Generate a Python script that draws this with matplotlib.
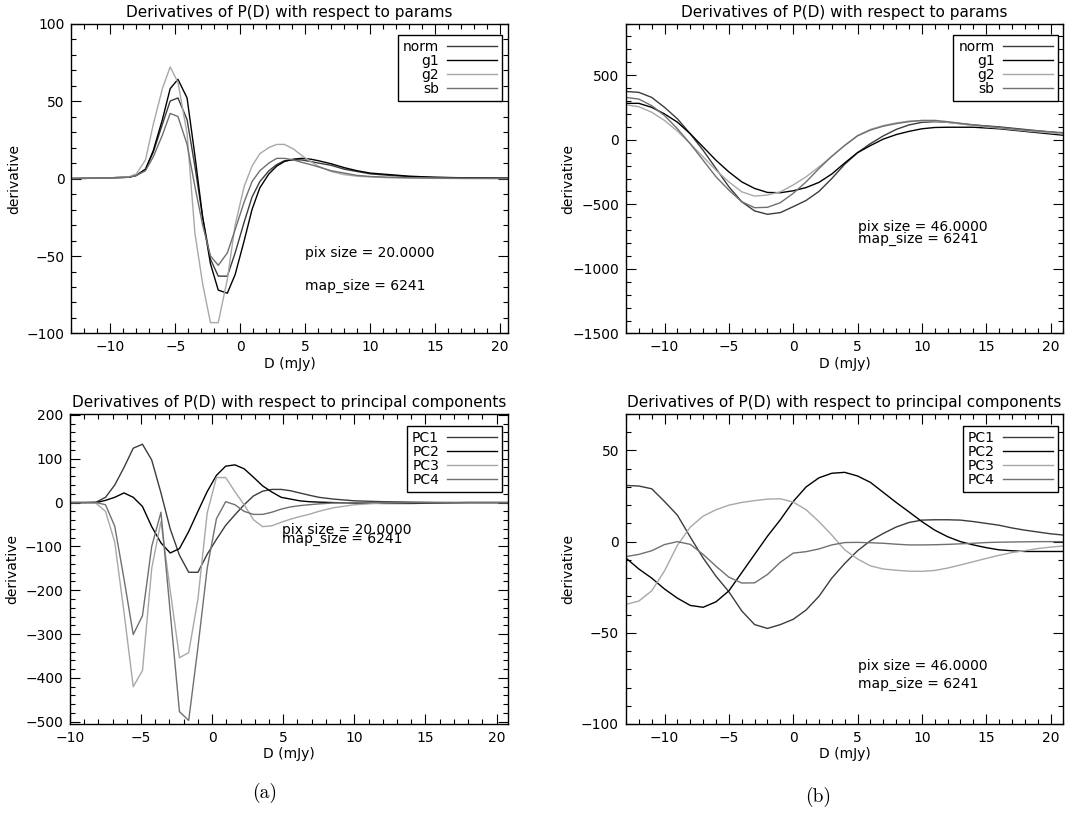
import matplotlib.pyplot as plt
from matplotlib.ticker import MultipleLocator

plt.rcParams['font.family'] = ['DejaVu Sans']
plt.rcParams['font.size'] = 10

# (a) top: derivatives wrt params, pix size 20
d_par_20 = [-13, -11, -9.9, -8.6, -8.0, -7.3, -6.7, -6.0, -5.4, -4.8, -4.1, -3.5, -2.9,
            -2.3, -1.7, -1.0, -0.4, 0.3, 0.9, 1.5, 2.2, 2.8, 3.4, 4.1, 4.7, 5.4, 6.0,
            7.0, 8.0, 9.0, 10.0, 11.5, 13.0, 15.0, 17.0, 20.6]
norm_20 = [0, 0.2, 0.5, 0.8, 2, 6, 17, 35, 50, 52, 38, 8, -25, -52, -63, -63, -48, -28,
           -12, -2, 5, 9, 11.5, 12, 12, 11, 10, 8.5, 6, 4.5, 3, 2, 1.2, 0.7, 0.4, 0.2]
g1_20 = [0, 0.2, 0.5, 0.8, 2, 6, 18, 38, 58, 64, 52, 15, -25, -55, -72, -74, -62, -40,
         -20, -6, 3, 8, 11, 12.5, 13, 12.5, 11.5, 9.5, 7, 5, 3.5, 2.5, 1.5, 0.8, 0.5, 0.3]
g2_20 = [0, 0.2, 0.5, 1, 3, 12, 35, 58, 72, 62, 29, -35, -68, -93, -93, -65, -30, -5,
         8, 16, 20, 22, 22, 19, 15, 11, 8, 4.5, 2.5, 1.5, 1, 0.5, 0.3, 0.1, 0, 0]
sb_20 = [0, 0.2, 0.5, 0.8, 2, 5, 14, 28, 42, 40, 22, -5, -30, -50, -56, -48, -33, -15,
         -2, 5, 10, 13, 13, 12, 10.5, 9, 7.5, 5, 3.5, 2, 1.3, 0.8, 0.5, 0.3, 0.1, 0]

# (b) top: derivatives wrt params, pix size 46
d_par_46 = [-13, -12, -11, -10, -9, -8, -7, -6, -5, -4, -3, -2, -1, 0, 1, 2, 3, 4, 5,
            6, 7, 8, 9, 10, 11, 12, 14, 16, 18, 21]
norm_46 = [374, 367, 328, 251, 162, 46, -82, -223, -364, -480, -551, -577, -564, -518,
           -470, -400, -300, -190, -100, -30, 30, 80, 115, 135, 140, 135, 115, 100, 80, 50]
g1_46 = [282, 282, 251, 200, 136, 46, -56, -159, -249, -326, -377, -408, -410, -395,
         -370, -330, -265, -180, -100, -45, 5, 40, 65, 85, 95, 97, 97, 85, 65, 35]
g2_46 = [271, 256, 213, 149, 67, -31, -133, -236, -326, -403, -436, -428, -403, -350,
         -287, -210, -128, -44, 33, 80, 110, 130, 145, 148, 145, 135, 110, 90, 70, 45]
sb_46 = [328, 315, 264, 187, 85, -31, -159, -287, -390, -480, -526, -523, -487, -415,
         -326, -223, -128, -44, 30, 75, 105, 125, 140, 150, 150, 140, 115, 95, 75, 55]

# (a) bottom: derivatives wrt principal components, pix size 20
d_pc_20 = [-10, -9, -8.15, -7.5, -6.85, -6.2, -5.55, -4.9, -4.25, -3.6, -2.95, -2.3,
           -1.65, -1.0, -0.35, 0.3, 0.95, 1.6, 2.25, 2.9, 3.55, 4.2, 4.85, 5.5, 6.15,
           6.8, 7.5, 8.5, 10, 12, 14, 16, 18, 20.8]
pc1_20 = [0, 0, 1, 12, 40, 80, 124, 133, 97, 22, -60, -120, -159, -159, -118, -84, -52,
          -28, -5, 15, 26, 30, 30, 27, 22, 17, 12, 8, 4, 2, 1, 0, 0, 0]
pc2_20 = [0, 0, 0, 5, 12, 22, 12, -9, -55, -92, -115, -105, -66, -20, 25, 62, 83, 86,
          77, 58, 38, 24, 12, 8, 4, 2, 1, 0, -1, -2, -2, -1, 0, 0]
pc3_20 = [0, 0, -2, -20, -90, -250, -420, -383, -150, -43, -200, -354, -342, -220, -24,
          57, 57, 25, -5, -39, -55, -53, -45, -38, -32, -27, -20, -12, -5, -1, 0, 0, 0, 0]
pc4_20 = [0, 0, 0, -5, -54, -174, -301, -258, -100, -22, -250, -477, -497, -330, -150,
          -37, 2, -5, -20, -27, -27, -22, -15, -10, -7, -5, -3, -1, 0, 0, 0, 0, 0, 0]

# (b) bottom: derivatives wrt principal components, pix size 46
d_pc_46 = [-13, -12, -11, -10, -9, -8, -7, -6, -5, -4, -3, -2, -1, 0, 1, 2, 3, 4, 5, 6,
           7, 8, 9, 10, 11, 12, 13, 14, 15, 16, 17, 18, 19, 20, 21]
pc1_46 = [30.8, 30.5, 29, 22, 14.5, 2.5, -9, -19, -27.5, -38, -45.5, -47.6, -45.5, -42.6,
          -37.5, -30, -20, -12, -5, 0.5, 4.5, 8, 10.5, 11.8, 12, 12, 11.8, 11, 10, 9,
          7.5, 6.3, 5.3, 4.3, 3.6]
pc2_46 = [-9, -15, -20, -26, -31, -35, -36, -33, -27, -17, -7, 3, 12, 22, 30, 35, 37.5,
          38, 36, 32.5, 27, 21.5, 16.3, 11, 6.3, 2.7, 0, -1.8, -3.3, -4.5, -5, -5.4,
          -5.4, -5.4, -5.4]
pc3_46 = [-34.4, -32.6, -27, -16, -2, 8, 14, 17.5, 20, 21.5, 22.5, 23.3, 23.5, 21.7,
          17.5, 11, 3.6, -4.5, -9.5, -13.3, -15, -15.7, -16.2, -16.3, -15.8, -14.5,
          -12.8, -11, -9.2, -7.5, -6, -5, -3.8, -3, -2.4]
pc4_46 = [-8.2, -7, -5, -1.6, 0, -1.5, -7, -13.5, -19.5, -22.7, -22.6, -18, -11.3, -6.3,
          -5.5, -4, -1.8, -0.5, -0.4, -0.6, -0.9, -1.4, -1.8, -1.8, -1.7, -1.5, -1.2,
          -0.9, -0.5, -0.3, -0.2, -0.1, 0, 0, 0]

par_labels = ['norm', 'g1', 'g2', 'sb']
pc_labels = ['PC1', 'PC2', 'PC3', 'PC4']
grays = ['#3c3c3c', '#000000', '#a8a8a8', '#707070']

title_par = 'Derivatives of P(D) with respect to params'
title_pc = 'Derivatives of P(D) with respect to principal components'


def draw_panel(ax, x, curves, labels, xlim, ylim, ymajor, yminor, title, notes):
    for y, lab, col in zip(curves, labels, grays):
        ax.plot(x, y, color=col, lw=1.0, label=lab)
    ax.set_xlim(*xlim)
    ax.set_ylim(*ylim)
    ax.xaxis.set_major_locator(MultipleLocator(5))
    ax.xaxis.set_minor_locator(MultipleLocator(1))
    ax.yaxis.set_major_locator(MultipleLocator(ymajor))
    ax.yaxis.set_minor_locator(MultipleLocator(yminor))
    ax.tick_params(which='both', direction='in', top=True, right=True, width=0.8)
    ax.tick_params(which='major', length=7, pad=5)
    ax.tick_params(which='minor', length=3.5)
    for sp in ax.spines.values():
        sp.set_linewidth(1.0)
    ax.set_title(title, fontsize=11, pad=5)
    ax.set_xlabel('D (mJy)')
    ax.set_ylabel('derivative')
    ax.xaxis.set_label_coords(0.5, -0.075)
    ax.yaxis.set_label_coords(-0.115, 0.5)
    # pix size / map size notes (they overlap in panel (a) bottom, as in the original)
    for (tx, ty, s) in notes:
        ax.text(tx, ty, s, ha='left', va='center', fontsize=10)
    leg = ax.legend(loc='upper right', bbox_to_anchor=(0.987, 0.962), borderaxespad=0,
                    markerfirst=False, fancybox=False, edgecolor='black', framealpha=1,
                    handlelength=3.6, handletextpad=0.6, labelspacing=0.0,
                    borderpad=0.35, fontsize=10)
    leg.get_frame().set_linewidth(1.0)


fig = plt.figure(figsize=(10.68, 8.14), dpi=100)
ax_tl = fig.add_axes([0.0669, 0.5903, 0.4087, 0.3808])
ax_tr = fig.add_axes([0.5861, 0.5903, 0.4096, 0.3808])
ax_bl = fig.add_axes([0.0655, 0.1106, 0.4101, 0.3808])
ax_br = fig.add_axes([0.5861, 0.1106, 0.4096, 0.3808])

draw_panel(ax_tl, d_par_20, [norm_20, g1_20, g2_20, sb_20], par_labels,
           (-13, 20.6), (-100, 100), 50, 10, title_par,
           [(4.95, -48, 'pix size = 20.0000'), (4.95, -69, 'map_size = 6241')])
draw_panel(ax_tr, d_par_46, [norm_46, g1_46, g2_46, sb_46], par_labels,
           (-13, 21), (-1500, 900), 500, 100, title_par,
           [(5.04, -672, 'pix size = 46.0000'), (5.04, -769, 'map_size = 6241')])
draw_panel(ax_bl, d_pc_20, [pc1_20, pc2_20, pc3_20, pc4_20], pc_labels,
           (-10, 20.8), (-505, 202), 100, 20, title_pc,
           [(4.93, -63, 'pix size = 20.0000'), (4.93, -84, 'map_size = 6241')])
draw_panel(ax_br, d_pc_46, [pc1_46, pc2_46, pc3_46, pc4_46], pc_labels,
           (-13, 21), (-100, 70), 50, 10, title_pc,
           [(5.04, -68, 'pix size = 46.0000'), (5.04, -78, 'map_size = 6241')])

fig.text(265 / 1068, 1 - 793 / 814, '(a)', family='cmr10', fontsize=14,
         ha='center', va='center')
fig.text(818 / 1068, 1 - 797 / 814, '(b)', family='cmr10', fontsize=14,
         ha='center', va='center')

fig.savefig('out.png', dpi=100)
